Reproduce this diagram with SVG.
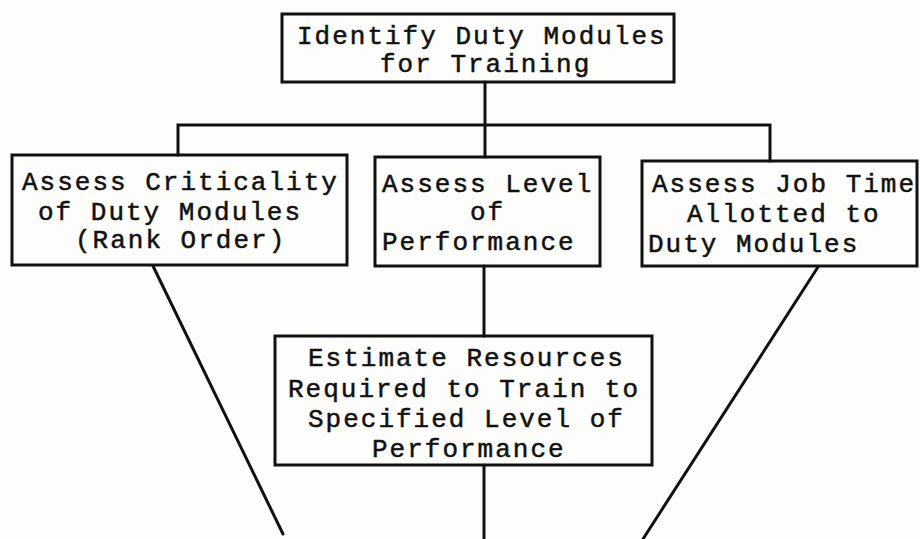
<svg xmlns="http://www.w3.org/2000/svg" width="920" height="539" viewBox="0 0 920 539">
<style>
.box{fill:none;stroke:#111;stroke-width:3}
.ln{fill:none;stroke:#111;stroke-width:3;stroke-linecap:round}
text{font-family:"Liberation Mono","DejaVu Sans Mono",monospace;font-size:26px;letter-spacing:2px;fill:#111;stroke:#111;stroke-width:0.5}
</style>
<rect width="920" height="539" fill="#fdfdfb"/>
<g id="connectors">
<path class="ln" d="M485 82V125"/>
<path class="ln" d="M178 155V125H770V161"/>
<path class="ln" d="M485 125V157"/>
<path class="ln" d="M484 266V336"/>
<path class="ln" d="M484 465V539"/>
<path class="ln" d="M153 266L283 534"/>
<path class="ln" d="M818 267L643 539"/>
</g>
<g id="identify">
<rect class="box" x="282" y="14" width="392" height="68"/>
<text x="297" y="44">Identify Duty Modules</text>
<text x="380" y="72">for Training</text>
</g>
<g id="criticality">
<rect class="box" x="12" y="155" width="335" height="110"/>
<text x="22" y="190">Assess Criticality</text>
<text x="38" y="220">of Duty Modules</text>
<text x="75" y="248">(Rank Order)</text>
</g>
<g id="level">
<rect class="box" x="375" y="157" width="225" height="109"/>
<text x="382" y="192">Assess Level</text>
<text x="470" y="220">of</text>
<text x="382" y="250">Performance</text>
</g>
<g id="jobtime">
<rect class="box" x="642" y="161" width="275" height="105"/>
<text x="652" y="192">Assess Job Time</text>
<text x="687" y="222">Allotted to</text>
<text x="648" y="252">Duty Modules</text>
</g>
<g id="estimate">
<rect class="box" x="275" y="336" width="377" height="129"/>
<text x="308" y="366">Estimate Resources</text>
<text x="288" y="397">Required to Train to</text>
<text x="308" y="427">Specified Level of</text>
<text x="372" y="457">Performance</text>
</g>
</svg>
